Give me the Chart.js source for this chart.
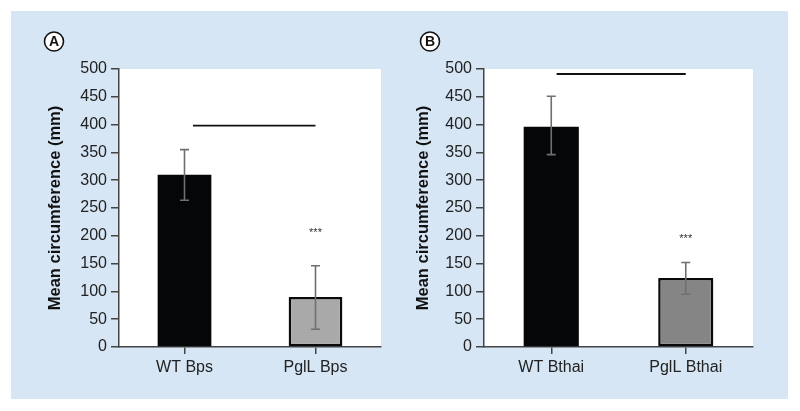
<!DOCTYPE html>
<html>
<head>
<meta charset="utf-8">
<script src="https://cdn.jsdelivr.net/npm/chart.js@4.4.1/dist/chart.umd.min.js"></script>
<style>
  html, body { margin: 0; padding: 0; background: #ffffff; }
  #wrap { position: relative; width: 800px; height: 411px; }
  #bg { position: absolute; left: 11px; top: 11px; width: 777px; height: 388px; background: #d6e6f5; }
  #cA { position: absolute; left: 11px; top: 11px; }
  #cB { position: absolute; left: 400px; top: 11px; }
</style>
</head>
<body>
<div id="wrap">
  <div id="bg"></div>
  <canvas id="cA" width="389" height="388"></canvas>
  <canvas id="cB" width="388" height="388"></canvas>
</div>
<script>
// ---- Data ----
const categoriesA = ['WT Bps', 'PglL Bps'];
const valuesA = [310, 90];
const errUpperA = [355, 146];
const errLowerA = [264, 32];
const sigLineA = [398];          // y value of significance bar
const starsA = [208];            // y value of *** label over second bar

const categoriesB = ['WT Bthai', 'PglL Bthai'];
const valuesB = [396, 124];
const errUpperB = [451, 152];
const errLowerB = [346, 95];
const sigLineB = [491];
const starsB = [197];

const yTicks = [0, 50, 100, 150, 200, 250, 300, 350, 400, 450, 500];
const yTitle = 'Mean circumference (mm)';

Chart.defaults.font.family = '"Liberation Sans", Arial, Helvetica, sans-serif';

const annotPlugin = {
  id: 'annot',
  afterDatasetsDraw(chart, args, opts) {
    const ctx = chart.ctx;
    const x = chart.scales.x, y = chart.scales.y;
    ctx.save();
    // error bars
    ctx.strokeStyle = '#6f6f6f';
    ctx.lineWidth = 1.6;
    opts.upper.forEach((u, i) => {
      const px = x.getPixelForValue(i);
      const yt = y.getPixelForValue(u);
      const yb = y.getPixelForValue(opts.lower[i]);
      ctx.beginPath();
      ctx.moveTo(px, yt); ctx.lineTo(px, yb);
      ctx.moveTo(px - 4.5, yt); ctx.lineTo(px + 4.5, yt);
      ctx.moveTo(px - 4.5, yb); ctx.lineTo(px + 4.5, yb);
      ctx.stroke();
    });
    // significance line
    ctx.strokeStyle = '#111';
    ctx.lineWidth = 1.8;
    const ys = y.getPixelForValue(opts.sig[0]);
    ctx.beginPath();
    ctx.moveTo(x.getPixelForValue(opts.sigFrom), ys);
    ctx.lineTo(x.getPixelForValue(opts.sigTo), ys);
    ctx.stroke();
    // stars
    ctx.fillStyle = '#333';
    ctx.font = '11px "Liberation Sans", Arial, sans-serif';
    ctx.textAlign = 'center';
    ctx.textBaseline = 'middle';
    ctx.fillText('***', x.getPixelForValue(1), y.getPixelForValue(opts.stars[0]) + 2);
    // panel letter
    ctx.beginPath();
    ctx.arc(opts.letterX, opts.letterY, 9.5, 0, Math.PI * 2);
    ctx.fillStyle = '#ffffff';
    ctx.fill();
    ctx.strokeStyle = '#111';
    ctx.lineWidth = 1.6;
    ctx.stroke();
    ctx.fillStyle = '#111';
    ctx.font = 'bold 14px "Liberation Sans", Arial, sans-serif';
    ctx.fillText(opts.letter, opts.letterX, opts.letterY + 1);
    ctx.restore();
  }
};

const plotBg = {
  id: 'plotBg',
  beforeDraw(chart) {
    const a = chart.chartArea, ctx = chart.ctx;
    ctx.save();
    ctx.fillStyle = '#ffffff';
    ctx.fillRect(a.left, a.top, a.right - a.left, a.bottom - a.top);
    ctx.restore();
  }
};

function makeChart(id, cats, vals, colors, up, lo, sig, stars, cfg) {
  return new Chart(document.getElementById(id), {
    type: 'bar',
    data: {
      labels: cats,
      datasets: [{
        data: vals,
        backgroundColor: colors,
        borderColor: ['#050608', '#0a0a0a'],
        borderWidth: [0, 2.5],
        borderSkipped: false,
        categoryPercentage: 1,
        barPercentage: 0.41
      }]
    },
    options: {
      responsive: false,
      animation: false,
      events: [],
      layout: { padding: { left: 0, right: cfg.padRight, top: 58, bottom: 0 } },
      plugins: {
        legend: { display: false },
        tooltip: { enabled: false },
        annot: { upper: up, lower: lo, sig: sig, stars: stars, sigFrom: cfg.sigFrom, sigTo: 1.0,
                 letter: cfg.letter, letterX: cfg.letterX, letterY: 30.5 }
      },
      scales: {
        x: {
          type: 'category',
          offset: true,
          grid: { display: true, drawOnChartArea: false, drawTicks: true, tickLength: 7, offset: false, color: '#444', lineWidth: 1.5 },
          border: { display: true, color: '#444', width: 1.5 },
          ticks: { color: '#222', font: { size: 16 }, padding: 4 },
          afterFit(s) { s.height = 52; }
        },
        y: {
          min: 0, max: 500,
          afterBuildTicks(s) { s.ticks = yTicks.map(v => ({ value: v })); },
          grid: { display: true, drawOnChartArea: false, drawTicks: true, tickLength: 8, color: '#444', lineWidth: 1.5 },
          border: { display: true, color: '#444', width: 1.5 },
          ticks: { color: '#222', font: { size: 16 }, padding: 4 },
          title: { display: true, text: yTitle, color: '#111', font: { size: 16.5, weight: 'bold' },
                   padding: { top: cfg.titlePad, bottom: 0 } },
          afterFit(s) { s.width = cfg.yWidth; }
        }
      }
    },
    plugins: [plotBg, annotPlugin]
  });
}

makeChart('cA', categoriesA, valuesA, ['#050608', '#a9a9a9'], errUpperA, errLowerA, sigLineA, starsA,
  { padRight: 19, yWidth: 108, titlePad: 35, sigFrom: 0.065, letter: 'A', letterX: 43 });
makeChart('cB', categoriesB, valuesB, ['#050608', '#858585'], errUpperB, errLowerB, sigLineB, starsB,
  { padRight: 35, yWidth: 84, titlePad: 14, sigFrom: 0.04, letter: 'B', letterX: 30 });
</script>
</body>
</html>
